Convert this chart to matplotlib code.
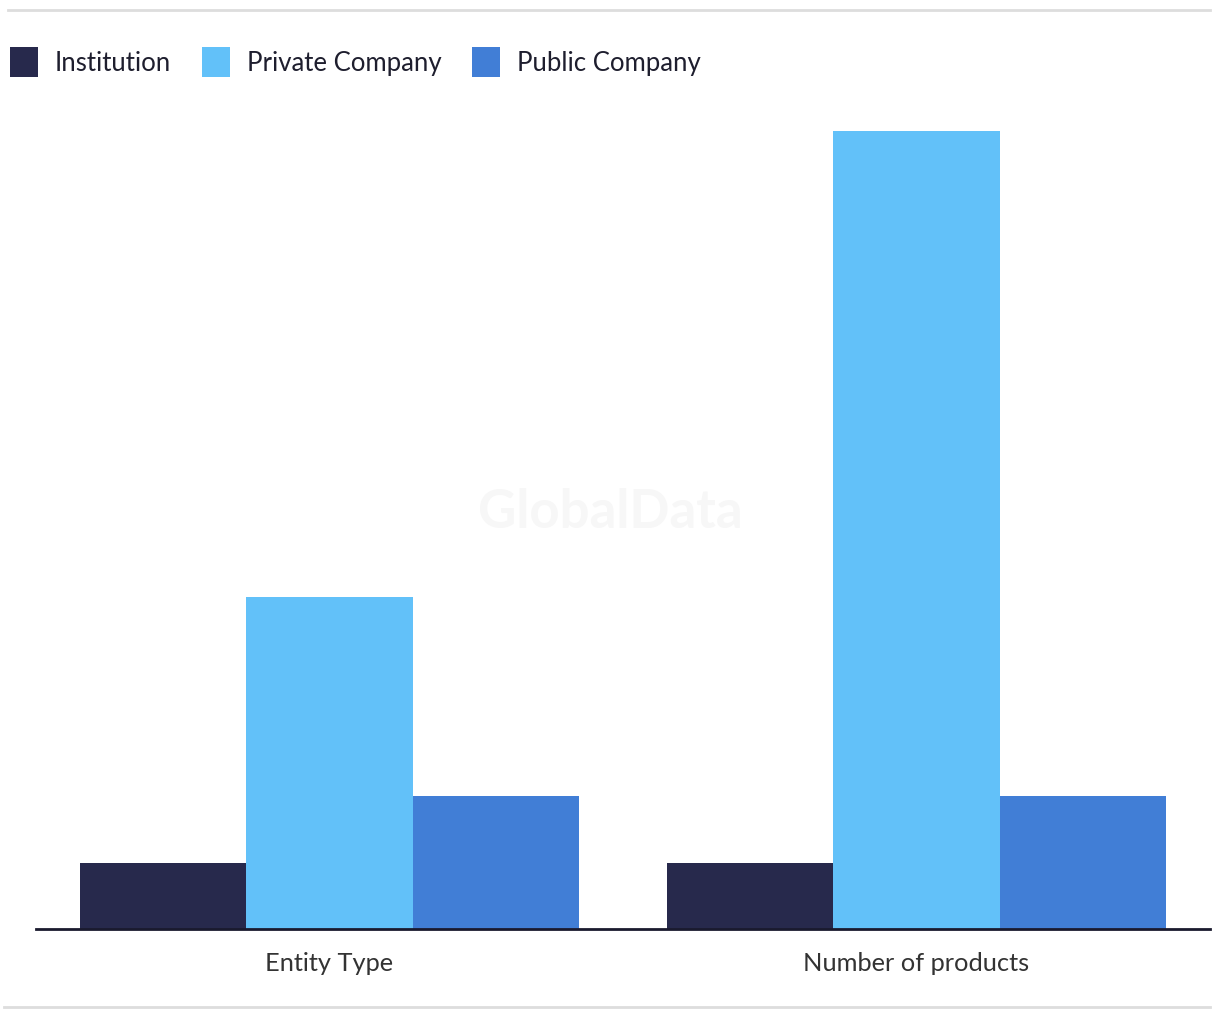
import matplotlib
matplotlib.use("Agg")
import matplotlib.pyplot as plt
from matplotlib.lines import Line2D
from matplotlib.patches import Patch
import numpy as np

categories = ["Entity Type", "Number of products"]
series_names = ["Institution", "Private Company", "Public Company"]
institution = [1, 1]
private_company = [5, 12]
public_company = [2, 2]
colors = ["#27294c", "#62c1f9", "#417ed6"]

plt.rcParams['font.family'] = ['Lato', 'DejaVu Sans']

W, H = 1220, 1020
fig = plt.figure(figsize=(W / 100, H / 100), dpi=100)
ax = fig.add_axes([36 / W, (H - 930) / H, (1210 - 36) / W, (930 - 99) / H])

x = np.arange(len(categories))
bw = 0.2835
for i, (vals, c) in enumerate(zip([institution, private_company, public_company], colors)):
    ax.bar(x + (i - 1) * bw, vals, width=bw, color=c, linewidth=0)

ax.set_xlim(-0.5, 1.5)
ax.set_ylim(0, 12.5)
ax.set_yticks([])
ax.set_xticks(x)
ax.set_xticklabels(categories, fontsize=18.3, color="#333333")
ax.tick_params(axis='x', length=0, pad=16)
for s in ["top", "right", "left"]:
    ax.spines[s].set_visible(False)
ax.spines["bottom"].set_color("#1a1a2e")
ax.spines["bottom"].set_linewidth(2)

fig.text(610 / W, 1 - 512 / H, "GlobalData", ha="center", va="center",
         fontsize=38, fontweight="bold", color="#f7f7f7", zorder=0)

handles = [Patch(facecolor=c, edgecolor="none") for c in colors]
fig.legend(handles, series_names, loc="upper left", bbox_to_anchor=(10 / W, 1 - 48 / H),
           ncol=3, frameon=False, fontsize=18.5, handlelength=1.09, handleheight=1.41,
           handletextpad=0.66, columnspacing=1.2, labelcolor="#1e1e2e",
           borderaxespad=0, borderpad=0)

fig.add_artist(Line2D([8 / W, 1210 / W], [1 - 11 / H, 1 - 11 / H], color="#dddddd", lw=2))
fig.add_artist(Line2D([4 / W, 1210 / W], [1 - 1008 / H, 1 - 1008 / H], color="#dddddd", lw=2))

fig.savefig("out.png", dpi=100, facecolor="white")
